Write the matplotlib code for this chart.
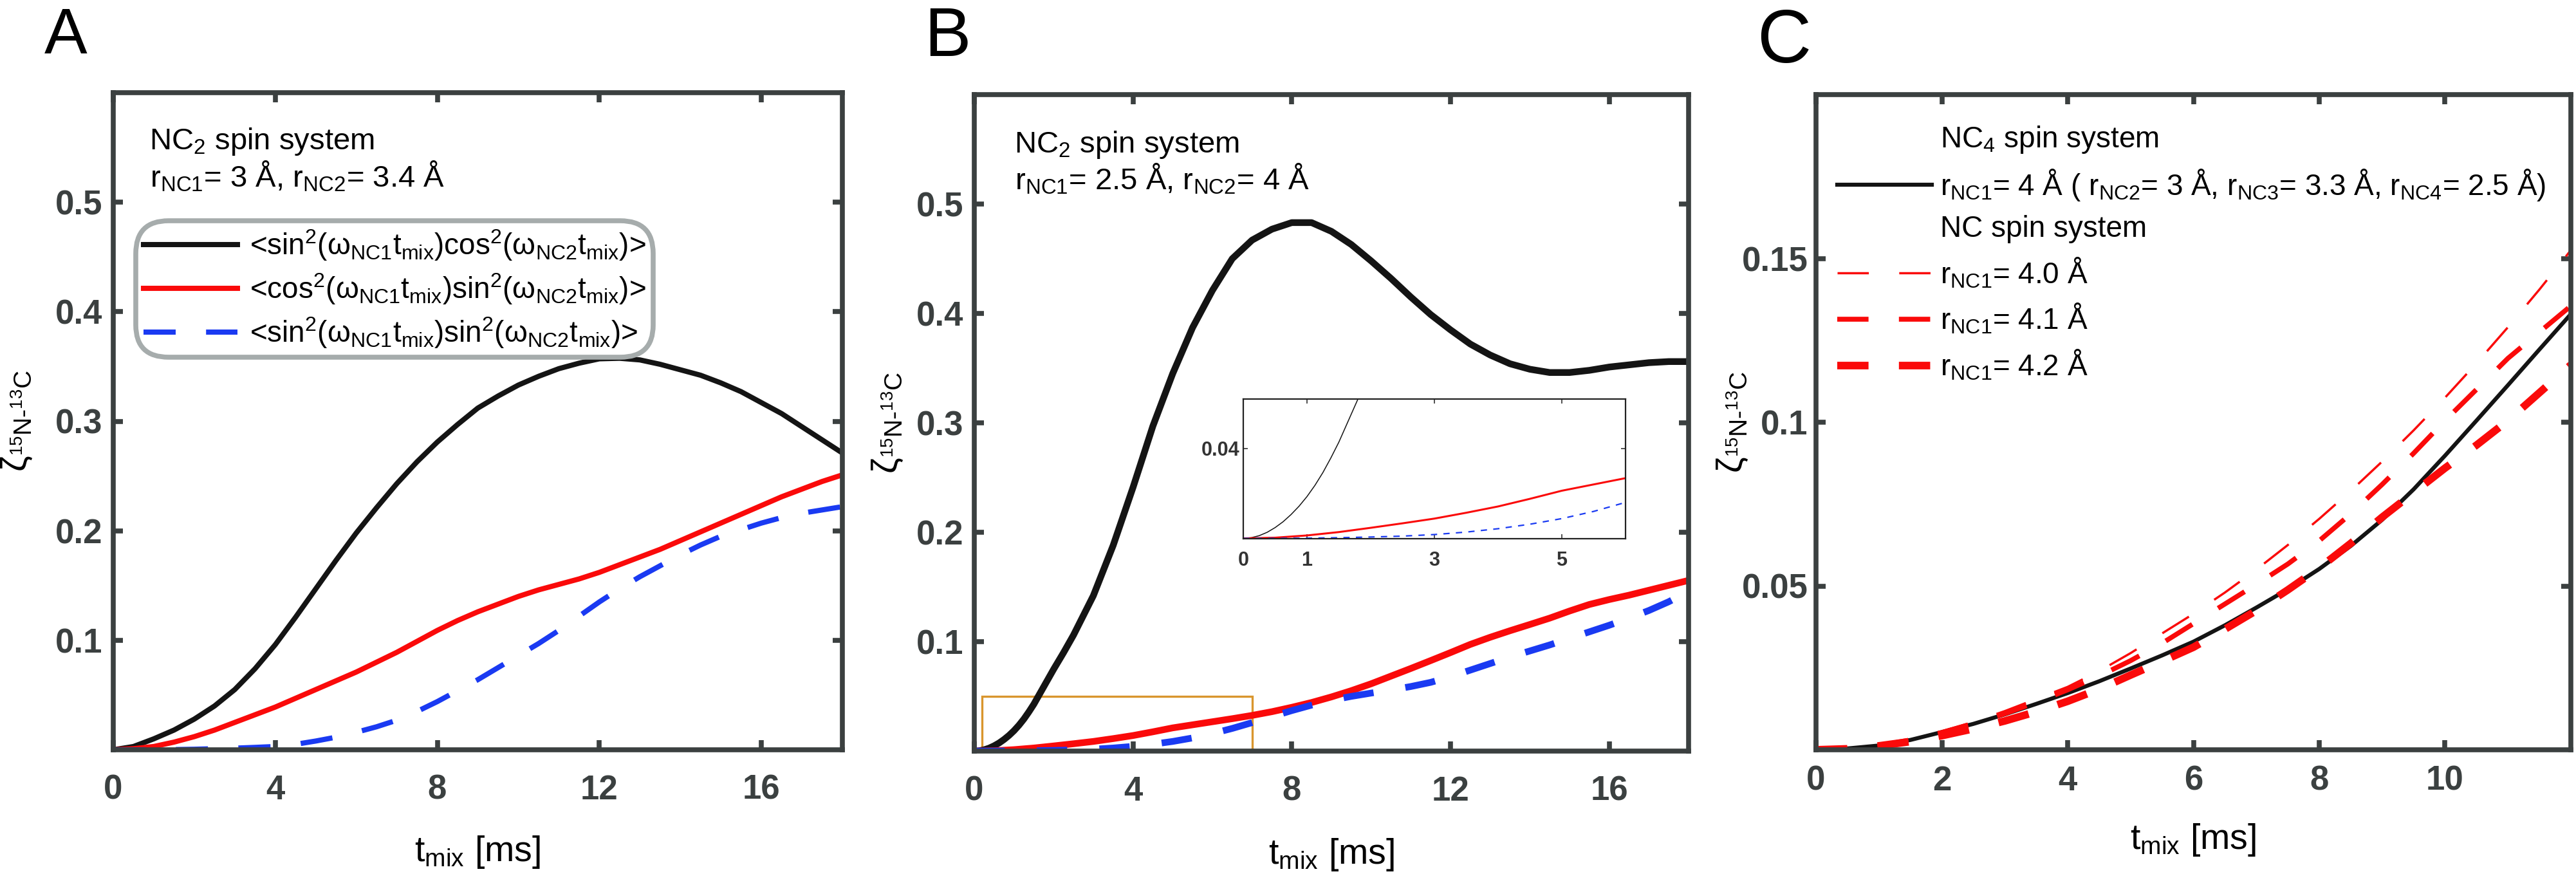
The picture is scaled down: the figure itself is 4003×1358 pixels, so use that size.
import numpy as np
import matplotlib
matplotlib.use('Agg')
import matplotlib.pyplot as plt
from matplotlib.lines import Line2D
from matplotlib.patches import Rectangle

plt.rcParams['font.family'] = ['Liberation Sans', 'DejaVu Sans']
plt.rcParams['mathtext.fontset'] = 'custom'
plt.rcParams['mathtext.rm'] = 'Liberation Sans'
plt.rcParams['mathtext.it'] = 'Liberation Sans:italic'
plt.rcParams['mathtext.bf'] = 'Liberation Sans:bold'
plt.rcParams['lines.scale_dashes'] = False

# ---------------- DATA ----------------
# Panel A: NC2, rNC1 = 3 A, rNC2 = 3.4 A
t_A = [0.0, 0.5, 1.0, 1.5, 2.0, 2.5, 3.0, 3.5, 4.0, 4.5, 5.0, 5.5, 6.0, 6.5, 7.0, 7.5,
       8.0, 8.5, 9.0, 9.5, 10.0, 10.5, 11.0, 11.5, 12.0, 12.5, 13.0, 13.5, 14.0, 14.5,
       15.0, 15.5, 16.0, 16.5, 17.0, 17.5, 18.0]
A_sin_cos = [0.0, 0.003, 0.010, 0.018, 0.028, 0.040, 0.055, 0.074, 0.096, 0.121,
             0.147, 0.173, 0.198, 0.221, 0.243, 0.263, 0.281, 0.297, 0.312, 0.323,
             0.333, 0.341, 0.348, 0.353, 0.357, 0.3575, 0.356, 0.352, 0.347, 0.342,
             0.335, 0.327, 0.317, 0.307, 0.295, 0.283, 0.271]
A_cos_sin = [0.0, 0.001, 0.003, 0.007, 0.012, 0.018, 0.025, 0.032, 0.039, 0.047,
             0.055, 0.063, 0.071, 0.080, 0.089, 0.099, 0.109, 0.118, 0.126, 0.133,
             0.140, 0.146, 0.151, 0.156, 0.162, 0.169, 0.176, 0.183, 0.191, 0.199,
             0.207, 0.215, 0.223, 0.231, 0.238, 0.245, 0.251]
A_sin_sin = [0.0, 0.0, 0.0, 0.0002, 0.0005, 0.001, 0.0015, 0.0022, 0.003, 0.005,
             0.008, 0.0115, 0.016, 0.021, 0.027, 0.035, 0.044, 0.054, 0.064, 0.075,
             0.086, 0.097, 0.109, 0.122, 0.135, 0.147, 0.158, 0.168, 0.178, 0.187,
             0.195, 0.201, 0.207, 0.212, 0.216, 0.219, 0.222]

# Panel B: NC2, rNC1 = 2.5 A, rNC2 = 4 A
t_B_black = [0.0, 0.125, 0.25, 0.375, 0.5, 0.625, 0.75, 0.875, 1.0, 1.125, 1.25, 1.375,
             1.5, 1.625, 1.75, 1.875, 2.0, 2.25, 2.5, 2.75, 3.0,
             3.5, 4.0, 4.5, 5.0, 5.5, 6.0, 6.5, 7.0, 7.5, 8.0, 8.5, 9.0, 9.5, 10.0,
             10.5, 11.0, 11.5, 12.0, 12.5, 13.0, 13.5, 14.0, 14.5, 15.0, 15.5, 16.0,
             16.5, 17.0, 17.5, 18.0]
B_sin_cos = [0.0, 0.0003, 0.0012, 0.0027, 0.0048, 0.0074, 0.0106, 0.0143, 0.0186, 0.0236,
             0.0293, 0.0358, 0.0428, 0.0508, 0.0588, 0.0668, 0.0748, 0.090, 0.106, 0.124,
             0.142, 0.188, 0.241, 0.297, 0.345, 0.387, 0.421, 0.450,
             0.467, 0.477, 0.483, 0.483, 0.475, 0.463, 0.448, 0.432, 0.415, 0.399,
             0.385, 0.372, 0.362, 0.354, 0.349, 0.346, 0.346, 0.348, 0.351, 0.353,
             0.355, 0.356, 0.356]
t_B = [0.0, 0.5, 1.0, 1.5, 2.0, 2.5, 3.0, 3.5, 4.0, 4.5, 5.0, 5.5, 6.0, 6.5, 7.0, 7.5,
       8.0, 8.5, 9.0, 9.5, 10.0, 10.5, 11.0, 11.5, 12.0, 12.5, 13.0, 13.5, 14.0, 14.5,
       15.0, 15.5, 16.0, 16.5, 17.0, 17.5, 18.0]
B_cos_sin = [0.0, 0.0003, 0.0013, 0.0028, 0.0047, 0.0067, 0.0088, 0.0114, 0.0142, 0.0176,
             0.0212, 0.0240, 0.0268, 0.0296, 0.0326, 0.0360, 0.0400, 0.0444, 0.0495, 0.0552,
             0.0615, 0.0685, 0.0755, 0.0827, 0.0900, 0.0975, 0.1040, 0.1100, 0.1157, 0.1215,
             0.1280, 0.1340, 0.1385, 0.1425, 0.1470, 0.1515, 0.1560]
B_sin_sin = [0.0, 0.0, 0.0001, 0.0003, 0.0006, 0.0010, 0.0017, 0.0028, 0.0043, 0.0063,
             0.0088, 0.0120, 0.0160, 0.0207, 0.0260, 0.0315, 0.0370, 0.0420, 0.0465, 0.0500,
             0.0530, 0.0558, 0.0590, 0.0628, 0.0680, 0.0740, 0.0800, 0.0860, 0.0915, 0.0970,
             0.1030, 0.1090, 0.1150, 0.1215, 0.1285, 0.1365, 0.1460]
B_zoom_box = [0.2, 7.0, 0.0, 0.05]   # t0, t1, y0, y1 of the highlighted region

# Panel C: NC4 vs NC spin systems
t_C = [0.0, 0.5, 1.0, 1.5, 2.0, 2.5, 3.0, 3.5, 4.0, 4.5, 5.0, 5.5, 6.0, 6.5, 7.0, 7.5,
       8.0, 8.5, 9.0, 9.5, 10.0, 10.5, 11.0, 11.5, 12.0]
C_NC4 = [0.0, 0.0004, 0.0013, 0.0030, 0.0054, 0.0079, 0.0108, 0.0140, 0.0173, 0.0209,
         0.0248, 0.0288, 0.0330, 0.0380, 0.0434, 0.0490, 0.0552, 0.0622, 0.0702, 0.0795,
         0.0898, 0.1005, 0.1113, 0.1222, 0.1330]
C_NC_40 = [0.0, 0.0004, 0.0014, 0.0031, 0.0056, 0.0085, 0.0118, 0.0155, 0.0192, 0.0240,
           0.0295, 0.0355, 0.0415, 0.0480, 0.0550, 0.0625, 0.0705, 0.0790, 0.0880, 0.0975,
           0.1075, 0.1180, 0.1290, 0.1405, 0.1525]
C_NC_41 = [0.0, 0.0004, 0.0013, 0.0030, 0.0053, 0.0080, 0.0110, 0.0145, 0.0183, 0.0225,
           0.0272, 0.0325, 0.0385, 0.0445, 0.0505, 0.0567, 0.0638, 0.0720, 0.0810, 0.0905,
           0.1005, 0.1100, 0.1195, 0.1275, 0.1355]
C_NC_42 = [0.0, 0.0003, 0.0012, 0.0025, 0.0043, 0.0064, 0.0088, 0.0116, 0.0148, 0.0185,
           0.0228, 0.0270, 0.0313, 0.0368, 0.0425, 0.0488, 0.0555, 0.0630, 0.0710, 0.0785,
           0.0860, 0.0930, 0.1005, 0.1090, 0.1175]

xticks_AB = [0, 4, 8, 12, 16]
yticks_AB = [0.1, 0.2, 0.3, 0.4, 0.5]
yticklabels_AB = ['0.1', '0.2', '0.3', '0.4', '0.5']
xticks_C = [0, 2, 4, 6, 8, 10]
yticks_C = [0.05, 0.1, 0.15]
yticklabels_C = ['0.05', '0.1', '0.15']
xticks_inset = [0, 1, 3, 5]
yticks_inset = [0.04]

# ---------------- STYLE ----------------
GRAY = '#3b4040'
BLACK = '#141414'
RED = '#fa0a0a'
BLUE = '#1a3af2'
ORANGE = '#d9962e'
LEGEND_EDGE = '#a6acac'

W, H = 4003, 1358
fig = plt.figure(figsize=(W / 100, H / 100), dpi=100)


def px_axes(x0, x1, ytop, ybot):
    return fig.add_axes([x0 / W, 1 - ybot / H, (x1 - x0) / W, (ybot - ytop) / H])


def style_axes(ax, xticks, yticks, yticklabels, xpad, ypad):
    for s in ax.spines.values():
        s.set_color(GRAY)
        s.set_linewidth(5.5)
    ax.set_xticks(xticks)
    ax.set_xticklabels([str(v) for v in xticks], fontweight='bold')
    ax.set_yticks(yticks)
    ax.set_yticklabels(yticklabels, fontweight='bold')
    ax.tick_params(direction='in', length=11, width=5.5, color=GRAY,
                   top=True, right=True, labelsize=38, labelcolor=GRAY)
    ax.tick_params(axis='x', pad=xpad)
    ax.tick_params(axis='y', pad=ypad)


YLABEL = r'ζ$_{{}^{15}\mathrm{N}\text{-}{}^{13}\mathrm{C}}$'
XLABEL = r't$_{\mathrm{mix}}$ [ms]'

# ---------------- Panel A ----------------
axA = px_axes(176, 1309, 144, 1165)
axA.set_xlim(0, 18)
axA.set_ylim(0, 0.6)
lA1, = axA.plot(t_A, A_sin_cos, color=BLACK, lw=5.8)
lA2, = axA.plot(t_A, A_cos_sin, color=RED, lw=5.8)
lA3, = axA.plot(t_A, A_sin_sin, color=BLUE, lw=5.8, dashes=(36, 34), dash_capstyle='butt')
style_axes(axA, xticks_AB, yticks_AB, yticklabels_AB, 27, 12)
axA.set_xlabel(XLABEL, fontsize=40)
axA.xaxis.set_label_coords(0.5, -0.128)
axA.set_ylabel(YLABEL, fontsize=40)
axA.yaxis.set_label_coords(-0.109, 0.5)
axA.text(0.0494, 0.9138, r'NC$_2$ spin system', transform=axA.transAxes,
         fontsize=34, va='baseline')
axA.text(0.0505, 0.857, r'r$_{\mathrm{NC1}}$= 3 Å, r$_{\mathrm{NC2}}$= 3.4 Å',
         transform=axA.transAxes, fontsize=34, va='baseline')
legA = axA.legend(
    handles=[lA1, lA2, lA3],
    labels=[r'<sin$^2$(ω$_{\mathrm{NC1}}$t$_{\mathrm{mix}}$)cos$^2$(ω$_{\mathrm{NC2}}$t$_{\mathrm{mix}}$)>',
            r'<cos$^2$(ω$_{\mathrm{NC1}}$t$_{\mathrm{mix}}$)sin$^2$(ω$_{\mathrm{NC2}}$t$_{\mathrm{mix}}$)>',
            r'<sin$^2$(ω$_{\mathrm{NC1}}$t$_{\mathrm{mix}}$)sin$^2$(ω$_{\mathrm{NC2}}$t$_{\mathrm{mix}}$)>'],
    loc='upper left', bbox_to_anchor=(0.031, 0.805), borderaxespad=0,
    fontsize=33, frameon=True, fancybox=True, framealpha=1,
    borderpad=0.25, handlelength=3.2, handletextpad=0.4, labelspacing=0.3)
fr = legA.get_frame()
fr.set_edgecolor(LEGEND_EDGE)
fr.set_linewidth(5.5)
fr.set_boxstyle('round', pad=0, rounding_size=1.1)

# ---------------- Panel B ----------------
axB = px_axes(1514, 2624, 147, 1167)
axB.set_xlim(0, 18)
axB.set_ylim(0, 0.6)
axB.plot(t_B_black, B_sin_cos, color=BLACK, lw=7.5)
axB.plot(t_B, B_cos_sin, color=RED, lw=7.5)
axB.plot(t_B, B_sin_sin, color=BLUE, lw=7.5, dashes=(34, 36), dash_capstyle='butt')
style_axes(axB, xticks_AB, yticks_AB, yticklabels_AB, 27, 12)
axB.set_xlabel(XLABEL, fontsize=40)
axB.xaxis.set_label_coords(0.5, -0.13)
axB.set_ylabel(YLABEL, fontsize=40)
axB.yaxis.set_label_coords(-0.097, 0.5)
axB.text(0.0555, 0.912, r'NC$_2$ spin system', transform=axB.transAxes,
         fontsize=34, va='baseline')
axB.text(0.057, 0.855, r'r$_{\mathrm{NC1}}$= 2.5 Å, r$_{\mathrm{NC2}}$= 4 Å',
         transform=axB.transAxes, fontsize=34, va='baseline')
bx0, bx1, by0, by1 = B_zoom_box
axB.add_patch(Rectangle((bx0, by0), bx1 - bx0, by1 - by0, fill=False,
                        edgecolor=ORANGE, lw=2.4, zorder=1))

# inset
axI = px_axes(1932, 2526, 620, 836.5)
axI.set_facecolor('white')
axI.plot(t_B_black, B_sin_cos, color=BLACK, lw=1.1)
axI.plot(t_B, B_cos_sin, color=RED, lw=2.2)
axI.plot(t_B, B_sin_sin, color=BLUE, lw=1.6, dashes=(7, 7))
axI.set_xlim(0, 6)
axI.set_ylim(0, 0.062)
for s in axI.spines.values():
    s.set_color('#222222')
    s.set_linewidth(1.6)
axI.set_xticks(xticks_inset)
axI.set_xticklabels([str(v) for v in xticks_inset], fontweight='bold')
axI.set_yticks(yticks_inset)
axI.set_yticklabels(['0.04'], fontweight='bold')
axI.tick_params(direction='in', length=5, width=1.2, color='#333333',
                top=True, right=True, labelsize=22, labelcolor='#333333')
axI.tick_params(axis='x', pad=14)
axI.tick_params(axis='y', pad=4)

# ---------------- Panel C ----------------
axC = px_axes(2822, 3995, 147, 1165)
axC.set_xlim(0, 12)
axC.set_ylim(0, 0.2)
lC0, = axC.plot(t_C, C_NC4, color=BLACK, lw=4.5)
lC1, = axC.plot(t_C, C_NC_40, color=RED, lw=2.5, dashes=(35, 34), dash_capstyle='butt')
lC2, = axC.plot(t_C, C_NC_41, color=RED, lw=5.5, dashes=(35, 34), dash_capstyle='butt')
lC3, = axC.plot(t_C, C_NC_42, color=RED, lw=8.5, dashes=(35, 34), dash_capstyle='butt')
style_axes(axC, xticks_C, yticks_C, yticklabels_C, 17, 9)
axC.set_xlabel(XLABEL, fontsize=40)
axC.xaxis.set_label_coords(0.5, -0.11)
axC.set_ylabel(YLABEL, fontsize=40)
axC.yaxis.set_label_coords(-0.088, 0.5)
blank1 = Line2D([], [], color='none')
blank2 = Line2D([], [], color='none')
legC = axC.legend(
    handles=[blank1, lC0, blank2, lC1, lC2, lC3],
    labels=[r'NC$_4$ spin system',
            r'r$_{\mathrm{NC1}}$= 4 Å ( r$_{\mathrm{NC2}}$= 3 Å, r$_{\mathrm{NC3}}$= 3.3 Å, r$_{\mathrm{NC4}}$= 2.5 Å)',
            'NC spin system',
            r'r$_{\mathrm{NC1}}$= 4.0 Å',
            r'r$_{\mathrm{NC1}}$= 4.1 Å',
            r'r$_{\mathrm{NC1}}$= 4.2 Å'],
    loc='upper left', bbox_to_anchor=(0.028, 0.955), borderaxespad=0,
    fontsize=33, frameon=False, borderpad=0, handlelength=3.2,
    handletextpad=0.3, labelspacing=0.42)

# ---------------- panel letters ----------------
fig.text(69 / W, 1 - 83 / H, 'A', fontsize=72, va='baseline')
fig.text(1436 / W, 1 - 87 / H, 'B', fontsize=78, va='baseline')
fig.text(2730 / W, 1 - 97 / H, 'C', fontsize=84, va='baseline')

fig.savefig('out.png', dpi=100)
